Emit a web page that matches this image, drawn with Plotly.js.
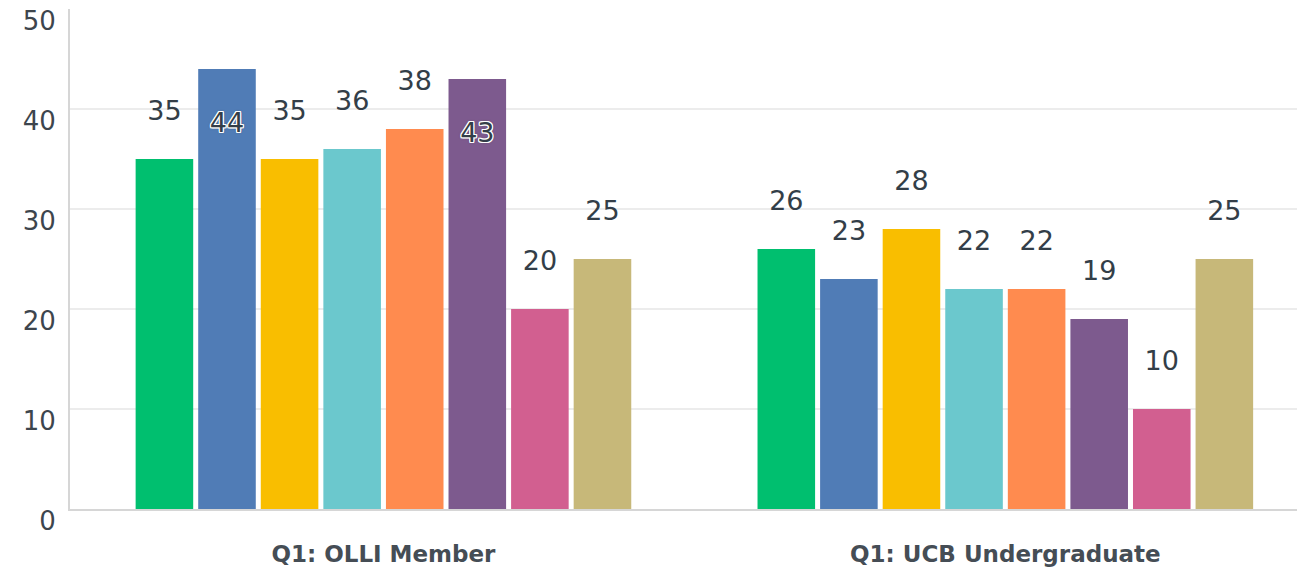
<!DOCTYPE html>
<html>
<head>
<meta charset="utf-8">
<script src="https://cdn.plot.ly/plotly-3.0.1.min.js"></script>
<style>html,body{margin:0;padding:0;background:#fff;}#chart{width:1297px;height:574px;}</style>
</head>
<body>
<div id="chart"></div>
<script>
const categories = ["Q1: OLLI Member", "Q1: UCB Undergraduate"];
const seriesNames = ["Answer 1", "Answer 2", "Answer 3", "Answer 4", "Answer 5", "Answer 6", "Answer 7", "Answer 8"];
const olliValues = [35, 44, 35, 36, 38, 43, 20, 25];
const ucbValues = [26, 23, 28, 22, 22, 19, 10, 25];
const seriesColors = ["#00BF6F", "#507CB6", "#F9BE00", "#6BC8CD", "#FF8B4F", "#7D5A8E", "#D25F90", "#C7B879"];
const yTicks = [0, 10, 20, 30, 40, 50];

const yMax = 50;
const insideThreshold = 40; // labels that would run off the top go inside the bar
const txtColor = "#333E48";
const fontFam = "DejaVu Sans, sans-serif";
const halo = "-1px -1px 0 #fff, 1px -1px 0 #fff, -1px 1px 0 #fff, 1px 1px 0 #fff, 0 1px 0 #fff, 0 -1px 0 #fff, 1px 0 0 #fff, -1px 0 0 #fff, 0 0 3px #555";
const labelFont = {family: fontFam, size: 27, color: txtColor};

const traces = seriesNames.map((name, i) => {
  const ys = [olliValues[i], ucbValues[i]];
  const inside = ys.map(v => v > insideThreshold);
  return {
    type: "bar",
    name: name,
    x: categories,
    y: ys,
    marker: {color: seriesColors[i], line: {width: 0}},
    text: ys.map((v, k) => inside[k] ? "<span style='font-size:27px'>&nbsp;</span><br>" + v : v + "<br><span style='font-size:5px'>&nbsp;</span>"),
    textposition: inside.map(b => b ? "inside" : "outside"),
    insidetextanchor: "end",
    constraintext: "none",
    cliponaxis: false,
    textfont: labelFont,
    insidetextfont: Object.assign({}, labelFont, {shadow: halo}),
    outsidetextfont: Object.assign({}, labelFont, {shadow: "none"}),
    hoverinfo: "none"
  };
});

const layout = {
  width: 1297,
  height: 574,
  margin: {l: 70, r: 0, t: 9, b: 65},
  paper_bgcolor: "#fff",
  plot_bgcolor: "#fff",
  showlegend: false,
  barmode: "group",
  bargap: 0.195,
  bargroupgap: 0.08,
  xaxis: {
    type: "category",
    range: [-0.504, 1.469],
    showgrid: false,
    showline: true,
    linecolor: "#d6d6d6",
    linewidth: 2,
    ticks: "",
    ticklabelstandoff: 23,
    tickfont: {family: fontFam, size: 23, color: "#454D55", weight: 700},
    fixedrange: true
  },
  yaxis: {
    range: [0, yMax],
    tickvals: yTicks,
    showgrid: true,
    gridcolor: "#ececec",
    gridwidth: 1.5,
    zeroline: false,
    showline: true,
    linecolor: "#d6d6d6",
    linewidth: 2,
    ticks: "",
    ticklabelposition: "outside",
    ticklabelshift: 12,
    ticklabelstandoff: 7,
    tickfont: {family: fontFam, size: 26, color: "#3D454D"},
    fixedrange: true
  }
};

Plotly.newPlot("chart", traces, layout, {displayModeBar: false, staticPlot: true});
</script>
</body>
</html>
